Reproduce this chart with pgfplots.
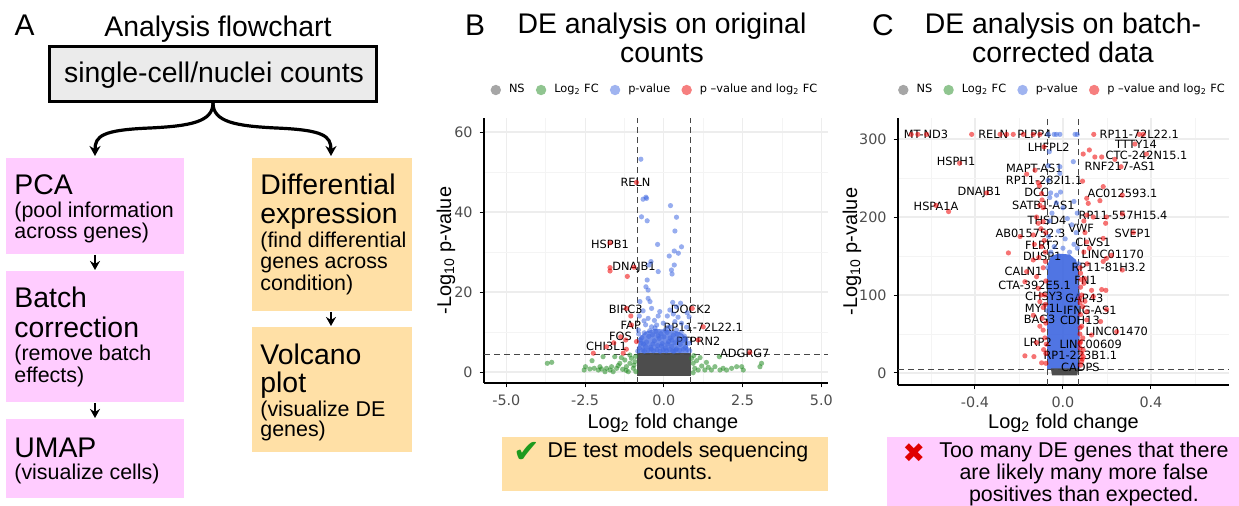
\documentclass[border=0pt]{standalone}
\usepackage{fontspec}
\setmainfont{Liberation Sans}
\newfontfamily\dejavu{DejaVu Sans}
\usepackage{pgfplots}
\pgfplotsset{compat=1.18}
\usetikzlibrary{arrows.meta}

\definecolor{gray30}{HTML}{4D4D4D}
\definecolor{fgreen}{HTML}{228B22}
\definecolor{rblue}{HTML}{4169E1}
\definecolor{redtwo}{HTML}{EE0000}
\definecolor{pinkbox}{HTML}{FFCCFF}
\definecolor{orangebox}{HTML}{FFE0A6}
\definecolor{boxgray}{HTML}{EBEBEB}
\definecolor{checkgreen}{HTML}{1E9A1E}
\definecolor{crossred}{HTML}{E00000}

\tikzset{
  hd/.style={anchor=base west, inner sep=0, font=\fontsize{14.25}{15}\selectfont},
  sb/.style={anchor=base west, inner sep=0, font=\fontsize{10.75}{11}\selectfont},
  ttl/.style={anchor=base, inner sep=0, font=\fontsize{14.25}{15}\selectfont},
  nt/.style={anchor=base, inner sep=0, align=center, font=\fontsize{10.75}{11.2}\selectfont},
  gl/.style={inner sep=0, font=\dejavu\fontsize{5.7}{6}\selectfont},
}

\pgfplotsset{
  volc/.style={
    scale only axis, anchor=south west,
    axis x line*=bottom, axis y line*=left,
    axis line style={black, line width=0.6bp, -},
    tick align=outside, major tick length=2.2bp, minor tick length=0pt,
    tick style={black, line width=0.5bp},
    grid=both,
    major grid style={gray!14, line width=0.6bp},
    minor grid style={gray!9, line width=0.4bp},
    ticklabel style={font=\dejavu\fontsize{7.2}{8}\selectfont, text=gray30},
    /pgf/number format/assume math mode=true,
    xlabel={Log\textsubscript{2} fold change},
    ylabel={-Log\textsubscript{10} p-value},
    label style={font=\fontsize{9.5}{11}\selectfont},
    every axis x label/.style={at={(axis description cs:0.5,0)}, anchor=center},
    every axis y label/.style={at={(axis description cs:0,0.5)}, anchor=center, rotate=90},
    legend columns=4,
    legend style={draw=none, fill=none, at={(0.5,1)}, anchor=center, yshift=14bp,
      font=\dejavu\fontsize{5.7}{6.5}\selectfont, inner sep=0pt,
      /tikz/every even column/.append style={column sep=3.6bp},
      /tikz/every odd column/.append style={column sep=2bp}},
  },
  pts/.style={forget plot, only marks, mark=*, mark size=1.3bp,
    mark options={fill=#1, fill opacity=0.55, draw opacity=0}},
  thr/.style={forget plot, mark=none, color=gray!55!black, line width=0.5bp,
    dash pattern=on 3bp off 2bp},
  lgNS/.style={legend image code/.code={\fill[gray30, fill opacity=0.5, draw=none] (0bp,0bp) circle (2.6bp);}},
  lgFC/.style={legend image code/.code={\fill[fgreen, fill opacity=0.5, draw=none] (0bp,0bp) circle (2.6bp);}},
  lgP/.style={legend image code/.code={\fill[rblue, fill opacity=0.5, draw=none] (0bp,0bp) circle (2.6bp);}},
  lgPFC/.style={legend image code/.code={\fill[redtwo, fill opacity=0.5, draw=none] (0bp,0bp) circle (2.6bp);}},
}

\begin{document}
\begin{tikzpicture}
\useasboundingbox (0,0) rectangle (619.5bp,-253bp);

\begin{scope}[x=0.5bp, y=-0.5bp]
% panel A: flowchart
\node[anchor=base, inner sep=0, font=\fontsize{15}{15}\selectfont] at (24.5,35) {A};
\node[ttl] at (218,36) {Analysis flowchart};
\draw[line width=1.5bp, fill=boxgray] (50,47) rectangle (377,102);
\node[ttl] at (214,83) {single-cell/nuclei counts};

\draw[line width=1.6bp, -{Stealth[length=5bp, width=5.5bp]}]
  (213,103) .. controls (213,122) and (190,126) .. (150,128)
  .. controls (102,130) and (95,136) .. (95,156);
\draw[line width=1.6bp, -{Stealth[length=5bp, width=5.5bp]}]
  (213,103) .. controls (213,122) and (236,126) .. (276,128)
  .. controls (324,130) and (331,136) .. (331,156);

\fill[pinkbox] (6,158) rectangle (184,254);
\fill[pinkbox] (6,271) rectangle (184,402);
\fill[pinkbox] (6,419) rectangle (184,498);
\fill[orangebox] (252,158) rectangle (412,311);
\fill[orangebox] (252,327) rectangle (412,452);

\draw[line width=1.4bp, -{Stealth[length=4.5bp, width=5bp]}] (95,255) -- (95,270);
\draw[line width=1.4bp, -{Stealth[length=4.5bp, width=5bp]}] (95,403) -- (95,418);
\draw[line width=1.4bp, -{Stealth[length=4.5bp, width=5bp]}] (331,312) -- (331,326);

\node[hd] at (14,195) {PCA};
\node[sb] at (14,218) {(pool information};
\node[sb] at (14,239) {across genes)};
\node[hd] at (14,308) {Batch};
\node[hd] at (14,338) {correction};
\node[sb] at (14,361) {(remove batch};
\node[sb] at (14,383) {effects)};
\node[hd] at (14,458) {UMAP};
\node[sb] at (14,480) {(visualize cells)};
\node[hd] at (260,195) {Differential};
\node[hd] at (260,224) {expression};
\node[sb] at (260,248) {(find differential};
\node[sb] at (260,269) {genes across};
\node[sb] at (260,291) {condition)};
\node[hd] at (260,365) {Volcano};
\node[hd] at (260,393) {plot};
\node[sb] at (260,417) {(visualize DE};
\node[sb] at (260,437) {genes)};

% panel titles
\node[anchor=base, inner sep=0, font=\fontsize{15}{15}\selectfont] at (475,35) {B};
\node[ttl] at (662,33) {DE analysis on original};
\node[ttl] at (662,62) {counts};
\node[anchor=base, inner sep=0, font=\fontsize{15}{15}\selectfont] at (883,35) {C};
\node[ttl] at (1063,33) {DE analysis on batch-};
\node[ttl] at (1063,62) {corrected data};

% notes under the plots (anchor=base is the last line's baseline)
\fill[orangebox] (502,437) rectangle (828,491);
\node[inner sep=0, font=\dejavu\fontsize{16}{16}\selectfont, text=checkgreen] at (527,452) {✔};
\node[nt] at (678,480) {DE test models sequencing\\counts.};
\fill[pinkbox] (887,437) rectangle (1239,506);
\node[inner sep=0, font=\dejavu\fontsize{13.5}{13.5}\selectfont, text=crossred] at (914,453) {✖};
\node[nt] at (1084,502) {Too many DE genes that there\\are likely many more false\\positives than expected.};
\end{scope}

% panel B
\begin{axis}[volc, at={(242bp,-191.5bp)}, width=172bp, height=132.5bp,
  xmin=-5.71, xmax=5.21, ymin=-2.75, ymax=63.5,
  xtick={-5,-2.5,0,2.5,5}, xticklabels={-5.0,-2.5,0.0,2.5,5.0},
  minor xtick={-3.75,-1.25,1.25,3.75},
  ytick={0,20,40,60}, yticklabels={0,20,40,60}, minor ytick={10,30,50},
  every axis y label/.append style={at={(axis description cs:-0.1105,0.5)}},
  every axis x label/.append style={at={(axis description cs:0.52,0)}, yshift=-20bp}]
\addlegendimage{lgNS}\addlegendentry{NS}
\addlegendimage{lgFC}\addlegendentry{Log\textsubscript{2} FC}
\addlegendimage{lgP}\addlegendentry{p-value}
\addlegendimage{lgPFC}\addlegendentry{p –value and log\textsubscript{2} FC}

% p-value only: dense band just above the threshold
\addplot[forget plot, fill=rblue, fill opacity=0.75, draw=none, mark=none] coordinates {
  (-0.83,4.8) (0.78,4.8) (0.75,8.5) (0.5,10) (0.2,10.5) (-0.3,10.8)
  (-0.6,10) (-0.8,8.5)} --cycle;
% NS: dense core
\addplot[forget plot, fill=gray30, draw=none, mark=none] coordinates {
  (-0.86,-0.9) (0.86,-0.9) (0.86,4.8) (-0.86,4.8)} --cycle;
% Log2 FC only
\addplot[pts=fgreen] coordinates {
  (-3.70,2.17) (-3.56,2.42) (-2.53,0.5) (-2.49,1.33) (-2.28,2.83) (-2.21,0.92)
  (-2.08,0.5) (-1.98,0.75) (-1.93,3.83) (-1.82,0.92) (-1.66,1.33) (-1.56,3.83)
  (-1.50,0.92) (-1.40,2.17) (-1.31,0.67) (-1.24,3.0) (-1.19,1.33) (-1.13,0.08)
  (-1.08,2.17) (-1.03,3.42) (-0.97,0.92) (-0.92,2.58) (-0.89,0.08) (-1.08,4.25)
  (-1.71,0.5) (-1.87,0.08) (-2.03,1.33) (-2.35,0.75) (-1.61,0.08) (-1.45,1.6)
  (-1.20,0.4) (-0.95,1.7) (-1.35,3.6) (-0.90,3.9)
  (0.88,3.42) (0.93,2.17) (0.98,0.92) (1.09,0.5) (1.20,1.5) (1.30,0.5)
  (1.41,1.17) (1.51,0.5) (1.62,1.33) (1.76,3.83) (1.78,0.5) (1.88,0.92)
  (1.99,0.5) (2.15,0.92) (2.31,1.33) (2.47,1.33) (2.52,0.5) (3.05,1.33)
  (3.10,2.17) (1.04,2.83) (0.93,-0.17) (0.95,4.1) (1.15,3.6) (1.35,2.4)
};
% p-value only
\addplot[pts=rblue] coordinates {
  (-0.73,53.2) (-0.55,43.4) (-0.66,43.2) (-0.57,43.7) (-0.71,38.8) (-0.53,37.8)
  (0.21,41.6) (0.40,38.7) (0.35,35.25) (0.56,31.3) (0.33,30.25) (0.46,29.7)
  (0.17,29.0) (0.33,26.75) (0.24,25.5) (0.26,24.5) (-0.20,31.9) (-0.41,27.6)
  (-0.47,26.75) (-0.18,25.1) (-0.53,23.0) (-0.57,21.3) (-0.50,20.5) (-0.50,18.4)
  (-0.44,17.6) (-0.76,17.6) (-0.39,15.9) (-0.66,15.3) (-0.13,15.1) (0.53,17.2)
  (0.28,17.4) (0.40,16.3) (0.19,15.5) (0.74,14.8) (0.80,13.8) (-0.78,14.0)
  (-0.50,13.4) (-0.18,14.0) (-0.63,12.8) (-0.02,12.2) (-0.23,11.75) (-0.39,11.3)
  (-0.81,10.5) (0.11,14.0) (0.35,12.6) (0.56,12.2) (0.72,11.2) (0.14,11.2)
  (0.40,10.5) (-0.30,12.9) (0.45,13.7) (0.30,14.5)
  (-0.80,9.5) (-0.70,8.6) (-0.62,9.8) (-0.55,7.5) (-0.48,8.9) (-0.42,6.2)
  (-0.36,9.3) (-0.30,7.8) (-0.25,10.1) (-0.20,6.6) (-0.15,8.4) (-0.10,9.6)
  (-0.05,7.1) (0.00,8.8) (0.05,6.0) (0.10,9.9) (0.15,7.6) (0.20,8.5)
  (0.25,6.4) (0.30,9.2) (0.35,7.3) (0.40,5.8) (0.45,8.1) (0.52,6.9)
  (0.60,7.9) (0.68,6.1) (0.75,5.6) (0.80,7.2) (-0.78,6.0) (-0.66,5.5)
  (-0.58,6.4) (-0.50,5.4) (-0.40,5.7) (-0.33,5.3) (-0.22,5.6) (-0.12,5.2)
  (-0.02,5.5) (0.08,5.3) (0.18,5.6) (0.28,5.3) (0.38,5.5) (0.50,5.4)
  (0.62,5.7) (-0.72,7.2) (-0.45,10.3) (-0.28,11.0) (0.05,10.5) (0.22,11.2)
  (0.55,9.8) (0.65,9.0) (-0.58,11.8) (-0.08,6.5) (0.12,7.0) (0.32,5.2)
  (-0.62,5.2) (-0.83,5.2) (0.82,5.3) (-0.35,7.0) (-0.65,7.0) (0.25,8.0)
  (-0.18,9.0) (0.42,9.5) (0.70,8.2) (-0.75,8.0)
};
% p-value and log2 FC
\addplot[pts=redtwo] coordinates {
  (-0.87,47.4) (-1.71,32.3) (-1.71,26.1) (-1.71,25.25) (-1.16,23.9) (-0.95,26.2)
  (-1.19,15.9) (-1.05,14.0) (-1.03,11.75) (-1.37,8.8) (-1.59,7.3) (-1.21,8.0)
  (-0.87,7.6) (-1.82,6.3) (-2.24,4.7) (-1.29,4.7) (-1.19,5.7) (0.90,15.9)
  (1.25,11.3) (1.09,8.0) (2.73,4.9)
};
\addplot[thr] coordinates {(-0.85,-2.75) (-0.85,63.5)};
\addplot[thr] coordinates {(0.85,-2.75) (0.85,63.5)};
\addplot[thr] coordinates {(-5.71,4.5) (5.21,4.5)};

\node[gl] at (axis cs:-0.9,47.4) {RELN};
\node[gl] at (axis cs:-1.71,32.0) {HSPB1};
\node[gl] at (axis cs:-0.95,26.2) {DNAJB1};
\node[gl] at (axis cs:-1.21,15.75) {BIRC3};
\node[gl] at (axis cs:-1.05,11.75) {FAP};
\node[gl] at (axis cs:-1.38,8.8) {FOS};
\node[gl] at (axis cs:-1.82,6.3) {CHI3L1};
\node[gl] at (axis cs:0.86,15.75) {DOCK2};
\node[gl] at (axis cs:1.25,11.1) {RP11-72L22.1};
\node[gl] at (axis cs:1.09,7.6) {PTPRN2};
\node[gl] at (axis cs:2.57,4.7) {ADGRG7};
\end{axis}

% panel C
\begin{axis}[volc, at={(449bp,-192.5bp)}, width=165.5bp, height=133.5bp,
  xmin=-0.75, xmax=0.755, ymin=-15.4, ymax=327,
  xtick={-0.4,0,0.4}, xticklabels={-0.4,0.0,0.4},
  minor xtick={-0.6,-0.2,0.2,0.6},
  ytick={0,100,200,300}, yticklabels={0,100,200,300}, minor ytick={50,150,250},
  every axis y label/.append style={at={(axis description cs:-0.139,0.5)}},
  every axis x label/.append style={yshift=-19bp}]
\addlegendimage{lgNS}\addlegendentry{NS}
\addlegendimage{lgFC}\addlegendentry{Log\textsubscript{2} FC}
\addlegendimage{lgP}\addlegendentry{p-value}
\addlegendimage{lgPFC}\addlegendentry{p –value and log\textsubscript{2} FC}

% p-value only: dense body
\addplot[forget plot, fill=rblue, fill opacity=0.92, draw=none, mark=none] coordinates {
  (-0.072,5) (-0.073,120) (-0.068,140) (-0.055,150) (-0.02,153) (0.03,152)
  (0.06,145) (0.075,125) (0.076,5)} --cycle;
% NS: dense core
\addplot[forget plot, fill=gray30, draw=none, mark=none] coordinates {
  (-0.05,-3) (0.065,-3) (0.07,6) (-0.055,6)} --cycle;
\addplot[pts=rblue] coordinates {
  (-0.067,306) (-0.04,306) (-0.03,306) (-0.014,306) (0.055,306) (0.065,306)
  (-0.062,283.8) (-0.067,265.8) (-0.014,264.5) (0.047,271) (-0.014,256)
  (-0.056,231) (-0.011,232) (-0.029,228) (-0.067,247)
  (-0.06,225) (-0.03,218) (0.0,212) (0.05,220) (0.065,205) (-0.05,205)
  (0.02,198) (-0.06,195) (0.04,190) (0.06,180) (-0.02,182) (-0.065,175)
  (0.01,172) (0.05,165) (-0.04,162) (0.065,160) (-0.055,155) (0.0,160)
  (0.03,155) (-0.02,150) (0.07,140) (-0.07,135) (0.068,100) (-0.07,80)
};
\addplot[pts=redtwo] coordinates {
  (-0.69,306) (-0.66,306) (-0.62,306) (-0.415,306) (-0.286,306) (-0.256,306)
  (-0.226,306) (-0.18,306) (-0.135,306) (-0.105,306) (0.14,306) (0.347,306) (0.365,306)
  (-0.086,290) (0.327,293.6) (0.092,280.8) (0.12,286) (0.145,277) (0.176,277)
  (0.236,274) (0.38,280.8) (-0.47,269) (0.264,264.5) (-0.127,260) (-0.165,255)
  (-0.112,244) (0.089,246) (-0.347,231) (-0.097,230) (-0.107,240) (0.183,239)
  (0.108,224) (0.168,221) (0.27,228) (0.115,217.5) (-0.577,215) (-0.52,207)
  (-0.105,215) (-0.09,212) (0.108,202.6) (0.138,200) (0.198,200) (0.27,204)
  (0.194,192) (-0.112,192) (-0.09,194) (-0.195,175) (-0.135,177) (0.32,180)
  (0.183,172.6) (0.108,168) (-0.097,162) (0.22,151) (0.198,147) (-0.248,154)
  (-0.135,145) (-0.08,143) (0.27,132) (0.183,143) (-0.165,130) (-0.12,123.5)
  (0.1,121) (0.08,128) (-0.173,117) (-0.112,108.5) (0.13,106) (0.176,107)
  (0.195,106) (0.077,95.7) (0.138,98) (-0.105,91.5) (-0.09,84) (-0.135,74)
  (0.108,78.6) (0.198,81.6) (-0.105,60) (-0.09,55) (0.171,66) (0.108,68)
  (0.244,53) (0.13,48.7) (0.077,50) (-0.12,39) (-0.076,37) (0.077,38)
  (0.092,29.5) (-0.173,22) (-0.132,21) (-0.097,13) (-0.077,12.4) (0.092,21)
  (0.085,15) (0.08,10)
  (-0.078,180) (-0.085,170) (-0.08,155) (-0.09,135) (-0.078,118) (-0.083,100)
  (-0.08,88) (-0.095,70) (-0.078,64) (-0.082,45) (-0.088,30) (-0.078,25)
  (-0.1,100) (0.078,135) (0.082,120) (0.08,110) (0.085,100) (0.078,90)
  (0.09,85) (0.08,75) (0.085,60) (0.078,58) (0.09,45) (0.08,40) (0.078,32)
  (0.085,25) (0.088,18) (0.095,115) (0.1,92) (0.11,140) (0.095,155)
  (-0.11,148) (-0.13,165) (-0.1,185) (-0.12,200) (-0.095,222) (0.1,180)
  (0.095,195) (0.12,160)
};
\addplot[thr] coordinates {(-0.07,-15.4) (-0.07,327)};
\addplot[thr] coordinates {(0.07,-15.4) (0.07,327)};
\addplot[thr] coordinates {(-0.75,5) (0.755,5)};

\node[gl] at (axis cs:-0.623,306) {MT-ND3};
\node[gl] at (axis cs:-0.317,306) {RELN};
\node[gl] at (axis cs:-0.13,306) {PLPP4};
\node[gl] at (axis cs:0.347,306) {RP11-72L22.1};
\node[gl] at (axis cs:-0.065,290) {LHFPL2};
\node[gl] at (axis cs:0.332,293) {TTTY14};
\node[gl] at (axis cs:0.38,279.5) {CTC-242N15.1};
\node[gl] at (axis cs:-0.486,271) {HSPH1};
\node[gl] at (axis cs:0.259,264.5) {RNF217-AS1};
\node[gl] at (axis cs:-0.13,262) {MAPT-AS1};
\node[gl] at (axis cs:-0.086,247) {RP11-282I1.1};
\node[gl] at (axis cs:-0.38,232) {DNAJB1};
\node[gl] at (axis cs:-0.12,232) {DCC};
\node[gl] at (axis cs:0.271,230) {AC012593.1};
\node[gl] at (axis cs:-0.577,214) {HSPA1A};
\node[gl] at (axis cs:-0.089,215) {SATB1-AS1};
\node[gl] at (axis cs:0.273,202.6) {RP11-557H15.4};
\node[gl] at (axis cs:-0.073,196) {THSD4};
\node[gl] at (axis cs:0.083,185.5) {VWF};
\node[gl] at (axis cs:-0.148,179) {AB015752.3};
\node[gl] at (axis cs:0.317,179) {SVEP1};
\node[gl] at (axis cs:0.136,167) {CLVS1};
\node[gl] at (axis cs:-0.094,164) {FLRT2};
\node[gl] at (axis cs:0.226,152.6) {LINC01170};
\node[gl] at (axis cs:-0.094,149) {DUSP1};
\node[gl] at (axis cs:0.208,135.5) {RP11-81H3.2};
\node[gl] at (axis cs:-0.179,130) {CALN1};
\node[gl] at (axis cs:0.103,119) {FN1};
\node[gl] at (axis cs:-0.129,113) {CTA-392E5.1};
\node[gl] at (axis cs:-0.086,98) {CHSY3};
\node[gl] at (axis cs:0.097,96) {GAP43};
\node[gl] at (axis cs:-0.088,83) {MYT1L};
\node[gl] at (axis cs:0.123,80) {IFNG-AS1};
\node[gl] at (axis cs:-0.106,69) {BAG3};
\node[gl] at (axis cs:0.077,68) {CDH13};
\node[gl] at (axis cs:0.245,53) {LINC01470};
\node[gl] at (axis cs:-0.115,39) {LRP2};
\node[gl] at (axis cs:0.126,36.8) {LINC00609};
\node[gl] at (axis cs:0.079,22) {RP1-223B1.1};
\node[gl] at (axis cs:0.079,7) {CADPS};
\end{axis}
\end{tikzpicture}
\end{document}
